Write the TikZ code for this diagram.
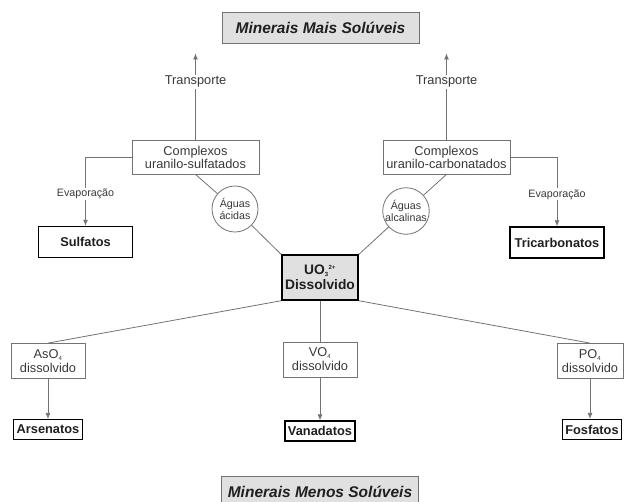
\documentclass[tikz,border=0pt]{standalone}
\usepackage{fontspec}
\setmainfont{Liberation Sans}
\usetikzlibrary{positioning, arrows.meta}
\colorlet{ink}{black!78}
\colorlet{wire}{black!55}
\colorlet{shade}{black!12}
\newcommand\fs[1]{\fontsize{#1}{#1}\selectfont}
\newcommand\lowix[1]{\textsubscript{\fontsize{6}{6}\selectfont #1}}

\begin{document}
\begin{tikzpicture}[
    x=1pt, y=-1pt,
    every node/.style={text=ink, align=center},
    title/.style={draw=wire, fill=shade, line width=0.9pt,
        minimum width=197pt, minimum height=31pt,
        font=\fs{15.5}\bfseries\itshape, text=black!88},
    complex/.style={draw=wire, line width=0.8pt, minimum width=127pt,
        minimum height=34pt, inner sep=2pt,
        font=\fontsize{12.8}{13}\selectfont},
    water/.style={circle, draw=wire, line width=0.8pt, minimum size=46pt,
        inner sep=0pt, font=\fontsize{10.7}{11.5}\selectfont},
    mineral/.style={draw=black, line width=1.5pt, minimum width=94pt,
        minimum height=31pt, font=\fs{12.8}\bfseries, text=black!88},
    lowmineral/.style={mineral, minimum width=0pt, minimum height=20pt,
        inner sep=3pt},
    solute/.style={draw=wire, line width=0.8pt, minimum width=74pt,
        minimum height=35pt, inner sep=2pt,
        font=\fontsize{12.8}{14}\selectfont},
    link/.style={draw=wire, line width=0.8pt},
    flow/.style={link, -{Latex[length=6pt, width=5pt]}},
    tag/.style={fill=white, inner sep=1pt, font=\fs{10.7}},
  ]
  \useasboundingbox (0,0) rectangle (624,501);

  % solubility ends
  \node [title] (maisSol) at (320.5,27.5) {Minerais Mais Solúveis};
  \node [title] (menosSol) at (320,492) {Minerais Menos Solúveis};

  % uranyl complexes
  \node [complex] (compSulf) at (195.5,157)
  {Complexos\\uranilo-sulfatados};
  \node [complex] (compCarb) at (446.5,157)
  {Complexos\\uranilo-carbonatados};

  \node [water] (aguaAcid) at (235,209) {Águas\\ácidas};
  \node [water] (aguaAlc) at (406,211) {Águas\\alcalinas};

  \node [draw=black, fill=shade, line width=1.5pt, minimum width=76pt,
    minimum height=45pt, font=\fontsize{13.8}{15}\selectfont\bfseries,
    text=black!88]
  (uranyl) at (320,277.5)
  {UO\lowix{3}\textsuperscript{\fontsize{6}{6}\selectfont 2+}\\Dissolvido};

  \node [mineral] (sulfatos) at (85.5,242) {Sulfatos};
  \node [mineral] (tricarb) at (557,242.5) {Tricarbonatos};

  % dissolved anions
  \node [solute] (asO) at (48,361) {AsO\lowix{4}\\dissolvido};
  \node [solute] (vO) at (320,359.5) {VO\lowix{4}\\dissolvido};
  \node [solute, minimum width=66pt] (pO) at (590,361) {PO\lowix{4}\\dissolvido};

  \node [lowmineral, below=40pt of asO] (arsen) {Arsenatos};
  \node [lowmineral, below=43pt of vO] (vanad) {Vanadatos};
  \node [lowmineral, below=40pt of pO, xshift=2pt] (fosf) {Fosfatos};

  % connectors
  \draw [flow, shorten >=10pt] (compSulf) -- (compSulf |- maisSol.south)
  node [tag, pos=0.6, font=\fs{12.8}] {Transporte};
  \draw [flow, shorten >=10pt] (compCarb) -- (compCarb |- maisSol.south)
  node [tag, pos=0.6, font=\fs{12.8}] {Transporte};

  \draw [flow] (compSulf.west) -| (sulfatos.north)
  node [tag, pos=0.77] {Evaporação};
  \draw [flow] (compCarb.east) -| (tricarb.north)
  node [tag, pos=0.77] {Evaporação};

  \draw [link] (compSulf.south) -- (aguaAcid);
  \draw [link] (aguaAcid) -- (uranyl.north west);
  \draw [link] (compCarb.south) -- (aguaAlc);
  \draw [link] (aguaAlc) -- (uranyl.north east);

  \draw [link] (uranyl.south west) -- (asO.north);
  \draw [link] (uranyl.south) -- (vO.north);
  \draw [link] (uranyl.south east) -- (pO.north);

  \draw [flow] (asO) -- (arsen);
  \draw [flow] (vO) -- (vanad);
  \draw [flow] (pO) -- (pO |- fosf.north);
\end{tikzpicture}
\end{document}
